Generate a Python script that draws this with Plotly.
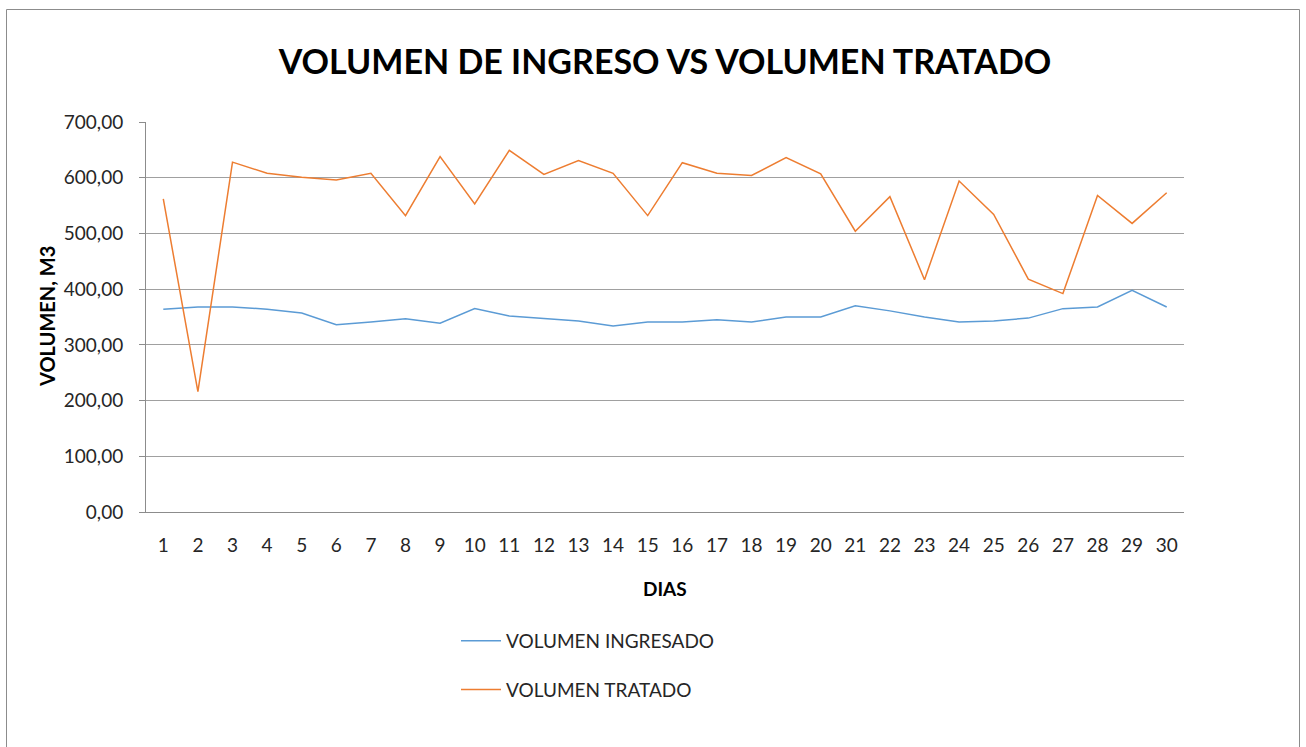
import plotly.graph_objects as go

dias = [str(d) for d in range(1, 31)]
volumen_ingresado = [364, 368, 368, 364, 357, 336, 341, 347, 339, 365,
                     352, 348, 343, 334, 341, 341, 345, 341, 350, 350,
                     370, 361, 350, 341, 343, 348, 365, 368, 398, 368]
volumen_tratado = [562, 216, 628, 608, 601, 596, 608, 532, 638, 553,
                   649, 606, 631, 608, 532, 627, 608, 604, 636, 607,
                   504, 566, 417, 594, 534, 418, 392, 568, 518, 573]
y_tick_vals = [0, 100, 200, 300, 400, 500, 600, 700]
y_tick_text = ["0,00", "100,00", "200,00", "300,00", "400,00", "500,00", "600,00", "700,00"]

FONT = "Lato, 'Open Sans', sans-serif"
W, H = 1306, 747
# target plot area in page pixels: x 146..1184, y 122..512
L, T = 146, 122
pw, ph = 1038, 390
R, B = W - L - pw, H - T - ph

def px_x(px):
    return (px - L) / pw

def px_y(py):
    return (T + ph - py) / ph

fig = go.Figure()
fig.add_trace(go.Scatter(x=dias, y=volumen_ingresado, mode="lines",
                         name="VOLUMEN INGRESADO", legendgroup="a",
                         line=dict(color="#5B9BD5", width=1.5)))
fig.add_trace(go.Scatter(x=dias, y=volumen_tratado, mode="lines",
                         name="VOLUMEN TRATADO", legendgroup="b",
                         line=dict(color="#ED7D31", width=1.5)))

fig.update_layout(
    width=W, height=H,
    margin=dict(l=L, r=R, t=T, b=B),
    paper_bgcolor="white", plot_bgcolor="white",
    font=dict(family=FONT, size=19, color="#262626"),
    title=dict(text="<b>VOLUMEN DE INGRESO VS VOLUMEN TRATADO</b>",
               x=0.5, xref="paper", xanchor="center",
               y=1 - 62 / H, yref="container", yanchor="middle",
               font=dict(family=FONT, size=34, color="black")),
    showlegend=True,
    legend=dict(x=px_x(456), y=px_y(622), xanchor="left", yanchor="top",
                orientation="v", tracegroupgap=21, itemwidth=40,
                font=dict(family=FONT, size=19, color="#262626"),
                bgcolor="rgba(0,0,0,0)"),
    xaxis=dict(type="category", range=[-0.5, 29.5], showgrid=False, showline=True,
               linecolor="#8c8c8c", linewidth=1, ticks="",
               ticklabelstandoff=16,
               tickfont=dict(family=FONT, size=19, color="#262626")),
    yaxis=dict(range=[0, 700], tickvals=y_tick_vals, ticktext=y_tick_text,
               showgrid=True, gridcolor="#a0a0a0", gridwidth=1,
               showline=True, linecolor="#8c8c8c", linewidth=1,
               ticks="outside", ticklen=6, tickcolor="#8c8c8c",
               ticklabelstandoff=12, zeroline=False,
               tickfont=dict(family=FONT, size=19, color="#262626")),
    annotations=[
        dict(text="<b>DIAS</b>", x=0.5, xref="paper", y=px_y(588), yref="paper",
             xanchor="center", yanchor="middle", showarrow=False,
             font=dict(family=FONT, size=19, color="black")),
        dict(text="<b>VOLUMEN, M3</b>", x=px_x(47), xref="paper", y=0.5, yref="paper",
             xanchor="center", yanchor="middle", showarrow=False, textangle=-90,
             font=dict(family=FONT, size=20, color="black")),
    ],
    shapes=[dict(type="rect", xref="paper", yref="paper",
                 x0=px_x(6.5), x1=px_x(1299.5), y0=px_y(770), y1=px_y(9.5),
                 line=dict(color="#8c8c8c", width=1), layer="below")],
)

fig.write_html(
    "out.html",
    config={"displayModeBar": False},
    post_script="document.documentElement.style.margin='0';"
                "document.body.style.margin='0';"
                "document.body.style.overflow='hidden';",
)
